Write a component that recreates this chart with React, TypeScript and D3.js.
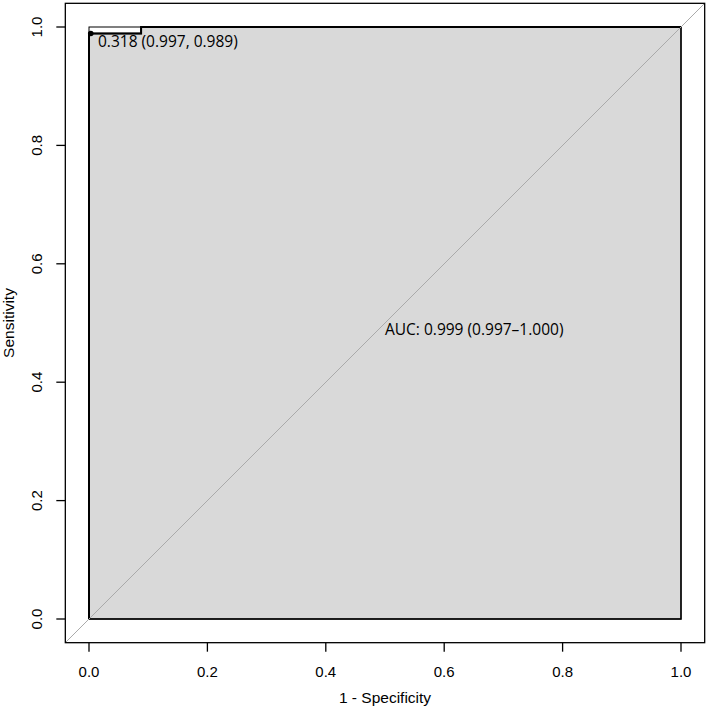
import React from "react";
import * as d3 from "d3";

const rocFpr = [0, 0, 0.088, 0.088, 1];
const rocTpr = [0, 0.989, 0.989, 1, 1];
const xTicks = [0, 0.2, 0.4, 0.6, 0.8, 1.0];
const yTicks = [0, 0.2, 0.4, 0.6, 0.8, 1.0];
const thresholdPoint = { fpr: 0.003, tpr: 0.989, label: "0.318 (0.997, 0.989)" };
const aucLabel = "AUC: 0.999 (0.997\u20131.000)";
const xTitle = "1 - Specificity";
const yTitle = "Sensitivity";

export default function App() {
  const W = 708, H = 712;
  const x = d3.scaleLinear().domain([0, 1]).range([89, 681]);
  const y = d3.scaleLinear().domain([0, 1]).range([619, 27]);
  const pad = 0.04;
  const bx0 = x(-pad), bx1 = x(1 + pad), by0 = y(1 + pad), by1 = y(-pad);
  const pts: [number, number][] = rocFpr.map((f, i) => [f, rocTpr[i]]);
  const line = d3.line<[number, number]>().x(d => x(d[0])).y(d => y(d[1]));
  const poly = [...pts, [1, 0] as [number, number]];
  const axisFont = "'Liberation Sans', Arial, sans-serif";
  const annFont = "'Open Sans', 'Noto Sans', sans-serif";
  return (
    <svg width={W} height={H} style={{ position: "absolute", left: 0, top: 0, background: "#fff" }}>
      <defs>
        <clipPath id="plotclip">
          <rect x={bx0} y={by0} width={bx1 - bx0} height={by1 - by0} />
        </clipPath>
      </defs>
      <path d={line(poly) + "Z"} fill="#d9d9d9" stroke="none" />
      <rect x={x(0)} y={y(1)} width={x(1) - x(0)} height={y(0) - y(1)} fill="none" stroke="#000" strokeWidth={1} />
      <path d={line(poly) + "Z"} fill="none" stroke="#000" strokeWidth={1.4} />
      <path d={line(pts) || ""} fill="none" stroke="#000" strokeWidth={2} />
      <line x1={x(-pad)} y1={y(-pad)} x2={x(1 + pad)} y2={y(1 + pad)} stroke="#aaaaaa" strokeWidth={1} clipPath="url(#plotclip)" />
      <circle cx={x(thresholdPoint.fpr)} cy={y(thresholdPoint.tpr)} r={2.8} fill="#000" />
      <text x={98} y={47} fontFamily={annFont} fontSize={15.5} fill="#000">{thresholdPoint.label}</text>
      <text x={x(0.5)} y={335} fontFamily={annFont} fontSize={15.5} fill="#000">{aucLabel}</text>
      <rect x={bx0} y={by0} width={bx1 - bx0} height={by1 - by0} fill="none" stroke="#000" strokeWidth={1.3} />
      {xTicks.map(t => (
        <g key={"x" + t}>
          <line x1={x(t)} x2={x(t)} y1={by1} y2={by1 + 9} stroke="#000" strokeWidth={1.3} />
          <text x={x(t)} y={677} textAnchor="middle" fontFamily={axisFont} fontSize={15} fill="#000">{t.toFixed(1)}</text>
        </g>
      ))}
      {yTicks.map(t => (
        <g key={"y" + t}>
          <line x1={bx0} x2={bx0 - 9} y1={y(t)} y2={y(t)} stroke="#000" strokeWidth={1.3} />
          <text transform={`translate(42,${y(t)}) rotate(-90)`} textAnchor="middle" fontFamily={axisFont} fontSize={15} fill="#000">{t.toFixed(1)}</text>
        </g>
      ))}
      <text x={(bx0 + bx1) / 2} y={703} textAnchor="middle" fontFamily={axisFont} fontSize={15.5} fill="#000">{xTitle}</text>
      <text transform={`translate(14,${(by0 + by1) / 2}) rotate(-90)`} textAnchor="middle" fontFamily={axisFont} fontSize={15.5} fill="#000">{yTitle}</text>
    </svg>
  );
}
